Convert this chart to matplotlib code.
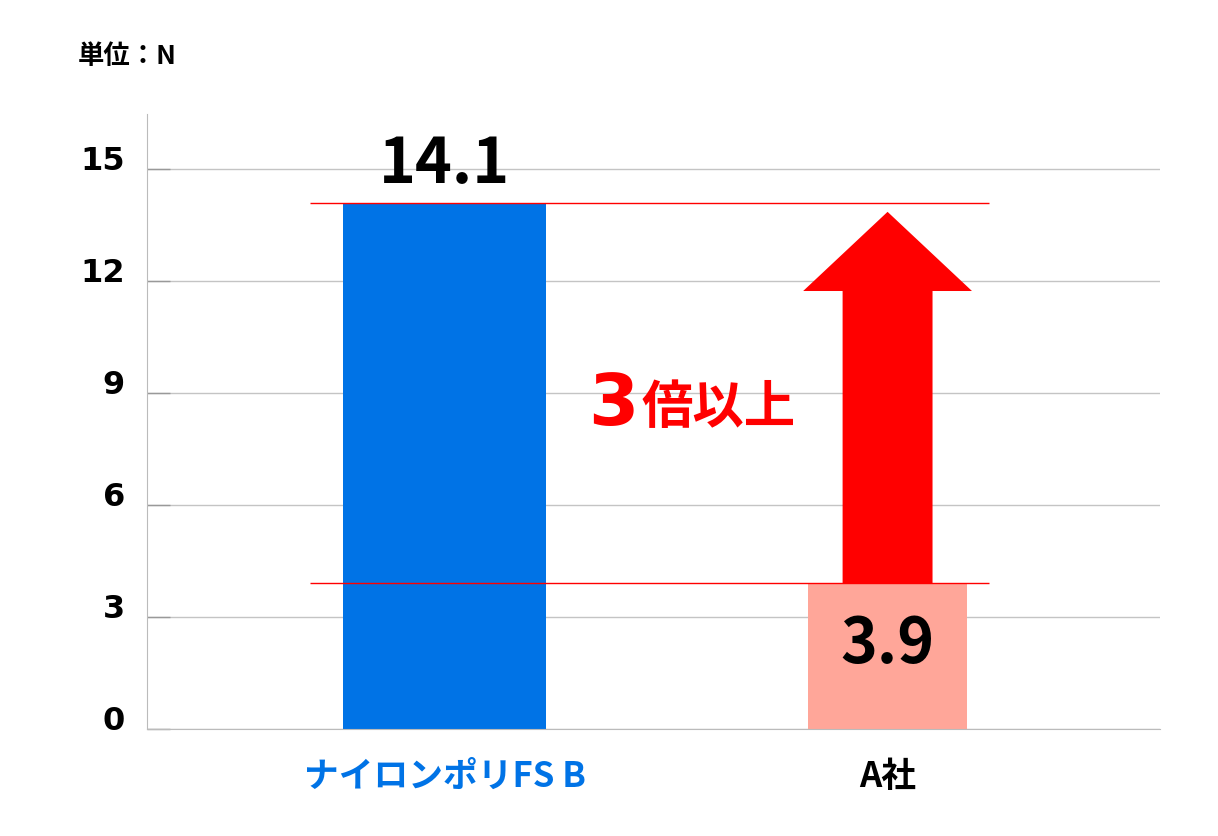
import matplotlib
matplotlib.use('Agg')
import matplotlib.pyplot as plt

plt.rcParams['font.family'] = ['Noto Sans CJK JP', 'DejaVu Sans']
plt.rcParams['font.weight'] = 'bold'

# data
categories = ['ナイロンポリFS B', 'A社']
values = [14.1, 3.9]
value_labels = ['14.1', '3.9']
yticks = [0, 3, 6, 9, 12, 15]
unit_label = '単位：N'
ratio_num = '3'
ratio_text = '倍以上'

bar_colors = ['#0073e6', '#ffa699']
label_colors = ['#0073e6', '#000000']
bar_widths = [0.458, 0.357]
x = [0, 1]

fig = plt.figure(figsize=(12.18, 8.37), dpi=100)
ax = fig.add_axes([0.1207, 0.1278, 0.9524 - 0.1207, 0.8626 - 0.1278])

ax.set_axisbelow(True)
ax.yaxis.grid(True, color='#c4c4c4', linewidth=1)
ax.bar(x, values, width=bar_widths, color=bar_colors, zorder=2)

ax.set_xlim(-0.6716, 1.615)
ax.set_ylim(0, 16.47)

# reference lines at both values
ax.hlines([values[0], values[1]], -0.3036, 1.229, colors='red', linewidth=1, zorder=3)

# arrow from A社 value up to the FS B value
ax.arrow(x[1], values[1], 0, values[0] - 0.25 - values[1], width=0.203,
         head_width=0.381, head_length=2.12, length_includes_head=True,
         color='red', linewidth=0, zorder=3)

# value labels
ax.text(x[0], values[0] + 0.56, value_labels[0], ha='center', va='baseline',
        fontsize=45, fontweight='bold', color='black', zorder=4)
ax.text(x[1], values[1] - 2.1, value_labels[1], ha='center', va='baseline',
        fontsize=45, fontweight='bold', color='black', zorder=4)

ax.text(0.438, 8.17, ratio_num, ha='right', va='baseline', fontsize=52,
        fontweight='bold', color='red', zorder=4, family='DejaVu Sans')
ax.text(0.4436, 8.63, ratio_text, ha='left', va='center', fontsize=37,
        fontweight='bold', color='red', zorder=4)

ax.set_yticks(yticks)
ax.set_yticklabels([str(t) for t in yticks], fontsize=23, fontweight='bold',
                   family='DejaVu Sans', va='baseline')
ax.tick_params(axis='y', direction='in', length=16.5, width=1, color='#999999', pad=16)

ax.set_xticks(x)
ax.set_xticklabels(categories, fontsize=25, fontweight='bold')
for lbl, c in zip(ax.get_xticklabels(), label_colors):
    lbl.set_color(c)
ax.tick_params(axis='x', length=0, pad=21)

for s in ['top', 'right']:
    ax.spines[s].set_visible(False)
ax.spines['left'].set_color('#bbbbbb')
ax.spines['bottom'].set_color('#bbbbbb')

fig.text(78 / 1218, 1 - 56 / 837, unit_label, ha='left', va='center',
         fontsize=19, fontweight='bold', color='black')

fig.savefig('out.png', dpi=100, facecolor='white')
